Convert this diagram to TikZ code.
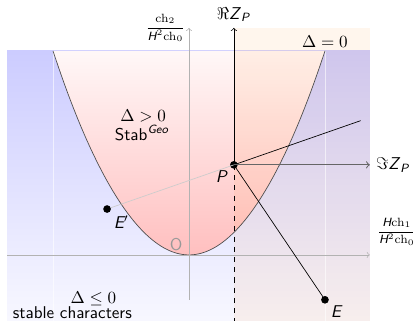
\documentclass[tikz,border=0pt]{standalone}
\usepackage{amsmath}
\usetikzlibrary{calc}
\newcommand{\sfit}[1]{\textsf{\textit{#1}}}
\begin{document}
\sffamily
\begin{tikzpicture}[scale=0.7,
    dot/.style={circle, fill=black, inner sep=0pt, minimum size=4.5pt},
    axisgray/.style={black!30, ->},
    txt/.style={anchor=base, inner sep=0pt},
  ]
  \useasboundingbox (-5.56,-1.94) rectangle (6.59,7.5);
  % Regions
  \shade[top color=blue!20, bottom color=blue!3] (-5.35,-1.94) rectangle (5.32,6);
  \shade[top color=red!3, bottom color=red!25] (-4,6) parabola bend (0,0) (4,6) -- cycle;
  \fill[orange, opacity=0.07] (1.32,-1.94) rectangle (5.32,6.68);
  \draw[white, opacity=0.6] (-4,6) -- (-4,-1.94) (4,6) -- (4,-1.94);
  \draw[black!70] (-4,6) parabola bend (0,0) (4,6);

  % Axes
  \draw[axisgray] (-5.35,0) -- (5.32,0);
  \node[anchor=west, inner sep=0pt] (xlab) at (5.52,0.68) {\scriptsize$\dfrac{\textit{H}\textrm{ch}_1}{\textit{H}^2\textrm{ch}_0}$};
  \draw[axisgray] (0,-1.32) -- (0,6.68) node[left, black, inner sep=2pt]{\scriptsize$\dfrac{\textrm{ch}_2}{\textit{H}^2\textrm{ch}_0}$};
  \node[black!40] (O) at (-0.38,0.29) {O};

  % Points
  \node[dot, label={[inner sep=1.5pt]below left:\sfit{P}}] (P) at (1.32,2.65) {};
  \node[dot, label={[inner sep=1.5pt]below right:\sfit{E}}] (E) at (4,-1.32) {};
  \node[dot, label={[inner sep=2pt]below right:\sfit{E$'$}}] (Ep) at (-2.41,1.35) {};
  \coordinate (Pbot) at (1.32,-1.94);
  \coordinate (Ptop) at (1.32,6.68);
  \coordinate (Pright) at (5.32,2.65);

  % Lines through P
  \draw[black!20] (Ep) -- (P.center);
  \draw (P.center) -- ($(P.center)!-1!(Ep.center)$);
  \draw (P.center) -- (E.center);
  \draw[dashed] (P.center) -- (Pbot);
  \draw[->] (P.center) -- (Ptop) node[above]{$\Re\sfit{Z}_{\sfit{P}}$};
  \draw[->, black!60, semithick] (P.center) -- (Pright) node[right, black]{$\Im\sfit{Z}_{\sfit{P}}$};

  % Labels
  \node[txt] (geo1) at (-1.35,3.94) {$\Delta>0$};
  \node[txt] (geo2) at (-1.38,3.38) {Stab$^{\sfit{Geo}}$};
  \node[txt] (neg1) at (-2.81,-1.42) {$\Delta\leq 0$};
  \node[txt] (neg2) at (-3.43,-1.88) {stable characters};
  \node[txt] (zero) at (4.0,6.1) {$\Delta=0$};
\end{tikzpicture}
\end{document}
